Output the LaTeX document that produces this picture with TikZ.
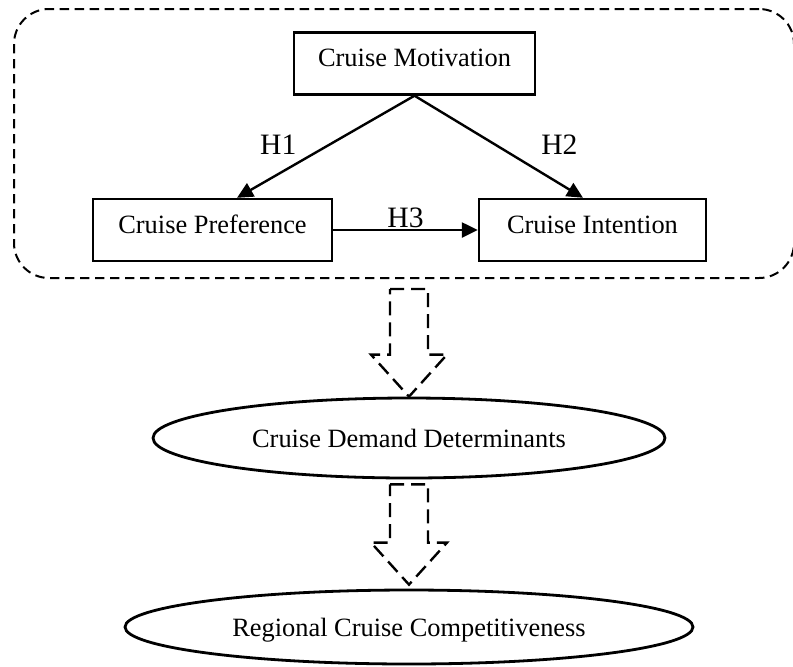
\documentclass[tikz,border=0pt]{standalone}
\usepackage{fontspec}
\setmainfont{Liberation Serif}
\usetikzlibrary{arrows.meta,shapes.geometric,calc}

\tikzset{
  factor/.style={draw,line width=1.2pt,minimum height=31pt,inner sep=0pt,
    text height=10pt,text depth=7pt,font=\fontsize{13.2}{16}\selectfont},
  outcome/.style={ellipse,draw,line width=1.4pt,inner sep=0pt,
    text height=9pt,text depth=0pt,font=\fontsize{13.2}{16}\selectfont},
  hyp/.style={inner sep=0.5pt,font=\fontsize{14.8}{17}\selectfont},
  link/.style={line width=1.2pt,-{Triangle[length=8pt,width=7.5pt]}},
  groupframe/.style={draw,line width=1pt,dash pattern=on 4.7pt off 2.8pt,rounded corners=17.5pt},
  hollow/.style={line width=1.2pt,dash pattern=on 7pt off 3.5pt}
}
% hollow block arrow from #1 (top of shaft) down to #2 (tip)
\newcommand{\hollowarrow}[2]{
  \draw[hollow] ($(#1)+(-19,0)$) -- ($(#1)+(19,0)$) -- ($(#2)+(19,-42)$)
    -- ($(#2)+(38,-42)$) -- (#2) -- ($(#2)+(-38,-42)$) -- ($(#2)+(-19,-42)$) -- cycle;
}

\begin{document}
\begin{tikzpicture}[x=0.5pt,y=-0.5pt]
 \useasboundingbox (0,0) rectangle (793,666);
 \node[groupframe,minimum width=390pt,minimum height=134.5pt] (group) at (404,143.5) {};

 \node[factor,minimum width=120.5pt] (motiv) at (414.5,63.5) {Cruise Motivation};
 \node[factor,minimum width=119.5pt] (pref) at (212.5,230) {Cruise Preference};
 \node[factor,minimum width=113.5pt] (intent) at (592.5,230) {Cruise Intention};

 \draw[link] (motiv.south) -- node[hyp,pos=0.48,xshift=-25.5pt] {H1} ($(pref.north)+(24.5,0)$);
 \draw[link] (motiv.south) -- node[hyp,pos=0.48,xshift=32pt] {H2} ($(intent.north)+(-9.5,0)$);
 \draw[link] (pref.east) -- node[hyp,midway,above] {H3} (intent.west);

 \node[outcome,minimum width=256pt,minimum height=40pt] (demand) at (409,438) {Cruise Demand Determinants};
 \node[outcome,minimum width=284pt,minimum height=37pt] (regional) at (409,627) {Regional Cruise Competitiveness};

 \coordinate (drop1) at ($(group.south)+(5,10)$);
 \coordinate (drop2) at ($(demand.south)+(0,5)$);
 \coordinate (tip2) at ($(regional.north)+(0,-4)$);
 \hollowarrow{drop1}{demand.north}
 \hollowarrow{drop2}{tip2}
\end{tikzpicture}
\end{document}
